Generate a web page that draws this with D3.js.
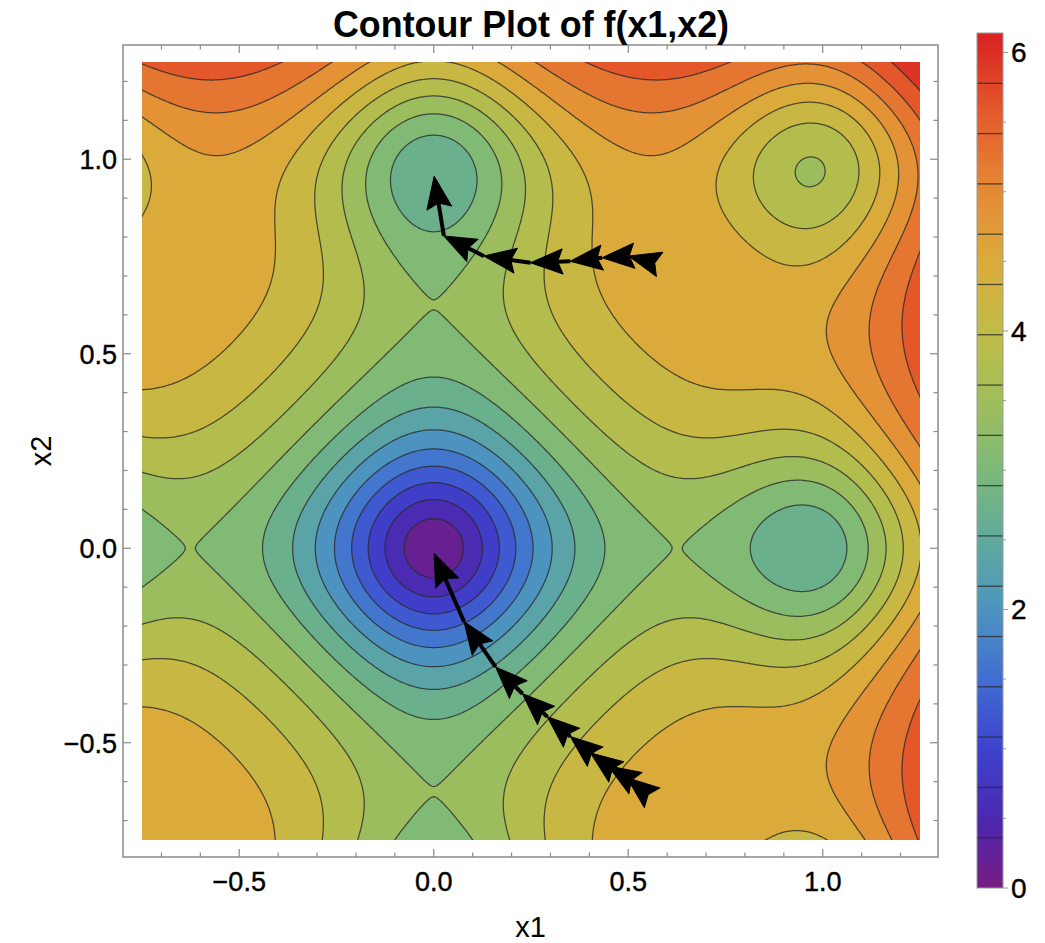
<!DOCTYPE html>
<html>
<head>
<meta charset="utf-8">
<script src="https://cdn.jsdelivr.net/npm/d3@7"></script>
<style>
  body { margin: 0; background: #fff; }
  text { font-family: "Liberation Sans", Arial, sans-serif; fill: #000; }
</style>
</head>
<body>
<svg id="chart" width="1045" height="943"></svg>
<script>
// plotted surface: Ackley function f(x1,x2), parameters of the plot
const ackA = 20, ackB = 0.2, ackC = 2 * Math.PI;
const xRange = [-0.75, 1.25];
const yRange = [-0.75, 1.25];
const nContours = 16;          // contour lines, equally spaced
const fMin = 0, fMax = 6.14;   // value range of the colour bar

// tick labels
const xTicks = [-0.5, 0.0, 0.5, 1.0];
const yTicks = [-0.5, 0.0, 0.5, 1.0];
const barTicks = [0, 2, 4, 6];

// gradient descent steps
const path1x = [0.551, 0.497, 0.449, 0.403, 0.351, 0.292, 0.228, 0.159, 0.078, 0.001];
const path1y = [-0.633, -0.590, -0.560, -0.526, -0.484, -0.433, -0.374, -0.305, -0.189, -0.014];
const path2x = [0.565, 0.501, 0.433, 0.351, 0.249, 0.129, 0.026, 0.001];
const path2y = [0.734, 0.751, 0.747, 0.738, 0.734, 0.751, 0.803, 0.956];

// "Rainbow" colour stops, sampled from the legend
const rainbowStops = [0, 0.08, 0.16, 0.245, 0.33, 0.41, 0.49, 0.57, 0.65, 0.73, 0.81, 0.9, 1];
const rainbowColors = ["#781c81", "#4b28af", "#3e41cd", "#406ed2", "#4e96be", "#60aa9b",
                       "#7db978", "#a0be5a", "#c0bc46", "#d9ac3c", "#e58c34", "#e45e2d", "#d92120"];

function f(x1, x2) {
  return -ackA * Math.exp(-ackB * Math.sqrt(0.5 * (x1 * x1 + x2 * x2)))
         - Math.exp(0.5 * (Math.cos(ackC * x1) + Math.cos(ackC * x2)))
         + Math.E + ackA;
}

const svg = d3.select("#chart");

// frame and data area
const frame = {left: 123, right: 938, top: 45, bottom: 857};
const x = d3.scaleLinear().domain(xRange).range([142, 920]);
const y = d3.scaleLinear().domain(yRange).range([840, 62]);

const color = d3.scaleLinear()
    .domain(rainbowStops.map(t => fMin + t * (fMax - fMin)))
    .range(rainbowColors)
    .interpolate(d3.interpolateRgb)
    .clamp(true);

const step = (fMax - fMin) / (nContours + 1);
const levels = d3.range(1, nContours + 1).map(k => fMin + k * step);

// sample the surface on a grid a bit larger than the plot range
const h = 0.005, g0 = -0.8;
const n = Math.round((1.3 - g0) / h) + 1;
const values = new Float64Array(n * n);
for (let j = 0; j < n; j++) {
  for (let i = 0; i < n; i++) {
    values[j * n + i] = f(g0 + i * h, g0 + j * h);
  }
}
const contours = d3.contours().size([n, n]).thresholds(levels)(values);

const proj = d3.geoTransform({
  point: function(px, py) {
    this.stream.point(x(g0 + (px - 0.5) * h), y(g0 + (py - 0.5) * h));
  }
});
const path = d3.geoPath(proj);

svg.append("defs").append("clipPath")
    .attr("id", "clip")
  .append("rect")
    .attr("x", x(xRange[0])).attr("y", y(yRange[1]))
    .attr("width", x(xRange[1]) - x(xRange[0]))
    .attr("height", y(yRange[0]) - y(yRange[1]));

const plot = svg.append("g").attr("clip-path", "url(#clip)");

// lowest band
plot.append("rect")
    .attr("x", x(xRange[0])).attr("y", y(yRange[1]))
    .attr("width", x(xRange[1]) - x(xRange[0]))
    .attr("height", y(yRange[0]) - y(yRange[1]))
    .attr("fill", color(fMin + step / 2));

plot.selectAll("path.band")
  .data(contours)
  .join("path")
    .attr("class", "band")
    .attr("d", path)
    .attr("fill", d => color(d.value + step / 2))
    .attr("stroke", "none");

plot.selectAll("path.line")
  .data(contours)
  .join("path")
    .attr("class", "line")
    .attr("d", path)
    .attr("fill", "none")
    .attr("stroke", "#2b2b2b")
    .attr("stroke-opacity", 0.8)
    .attr("stroke-width", 1.25);

// gradient descent arrows
function drawArrows(xs, ys) {
  const g = svg.append("g");
  const L = 32, W = 12.5, notch = 27;
  for (let i = 0; i < xs.length - 1; i++) {
    const x0 = x(xs[i]), y0 = y(ys[i]);
    const x1 = x(xs[i + 1]), y1 = y(ys[i + 1]);
    const ang = Math.atan2(y1 - y0, x1 - x0);
    const len = Math.hypot(x1 - x0, y1 - y0);
    if (len > notch) {
      g.append("line")
          .attr("x1", x0).attr("y1", y0)
          .attr("x2", x1 - Math.cos(ang) * notch)
          .attr("y2", y1 - Math.sin(ang) * notch)
          .attr("stroke", "#000")
          .attr("stroke-width", 4);
    }
    g.append("path")
        .attr("d", `M0,0L${-L},${-W}L${-notch},0L${-L},${W}Z`)
        .attr("transform", `translate(${x1},${y1}) rotate(${ang * 180 / Math.PI})`)
        .attr("fill", "#000")
        .attr("stroke", "#000")
        .attr("stroke-width", 1)
        .attr("stroke-linejoin", "round");
  }
}
drawArrows(path1x, path1y);
drawArrows(path2x, path2y);

// frame with inward ticks
svg.append("rect")
    .attr("x", frame.left).attr("y", frame.top)
    .attr("width", frame.right - frame.left)
    .attr("height", frame.bottom - frame.top)
    .attr("fill", "none")
    .attr("stroke", "#8a8a8a")
    .attr("stroke-width", 1.5);

const minorX = d3.range(-7, 13).map(k => k / 10);
const ticks = svg.append("g").attr("stroke", "#8a8a8a").attr("stroke-width", 1.2);
minorX.forEach(v => {
  const major = Math.abs(v * 2 - Math.round(v * 2)) < 1e-9;
  const len = major ? 8 : 4.5;
  const px = x(v), py = y(v);
  ticks.append("line").attr("x1", px).attr("x2", px).attr("y1", frame.bottom).attr("y2", frame.bottom - len);
  ticks.append("line").attr("x1", px).attr("x2", px).attr("y1", frame.top).attr("y2", frame.top + len);
  ticks.append("line").attr("y1", py).attr("y2", py).attr("x1", frame.left).attr("x2", frame.left + len);
  ticks.append("line").attr("y1", py).attr("y2", py).attr("x1", frame.right).attr("x2", frame.right - len);
});

const fmt = v => d3.format(".1f")(v).replace("-", "\u2212");

svg.append("g").selectAll("text")
  .data(xTicks)
  .join("text")
    .attr("x", d => x(d))
    .attr("y", 891)
    .attr("text-anchor", "middle")
    .attr("font-size", 27)
    .attr("stroke", "#000").attr("stroke-width", 0.4)
    .text(fmt);

svg.append("g").selectAll("text")
  .data(yTicks)
  .join("text")
    .attr("x", 117)
    .attr("y", d => y(d) + 10)
    .attr("text-anchor", "end")
    .attr("font-size", 27)
    .attr("stroke", "#000").attr("stroke-width", 0.4)
    .text(fmt);

svg.append("text")
    .attr("x", (frame.left + frame.right) / 2)
    .attr("y", 937)
    .attr("text-anchor", "middle")
    .attr("font-size", 29)
    .text("x1");

svg.append("text")
    .attr("transform", `translate(51,${(frame.top + frame.bottom) / 2}) rotate(-90)`)
    .attr("text-anchor", "middle")
    .attr("font-size", 29)
    .text("x2");

svg.append("text")
    .attr("x", 531)
    .attr("y", 37)
    .attr("text-anchor", "middle")
    .attr("font-size", 36)
    .attr("font-weight", "bold")
    .attr("textLength", 396)
    .attr("lengthAdjust", "spacingAndGlyphs")
    .text("Contour Plot of f(x1,x2)");

// colour bar
const bar = {x: 977, w: 26};
const yb = d3.scaleLinear().domain([fMin, fMax]).range([888, 33]);
const grad = svg.select("defs").append("linearGradient")
    .attr("id", "bargrad")
    .attr("x1", 0).attr("x2", 0).attr("y1", 1).attr("y2", 0);
grad.selectAll("stop")
  .data(d3.range(0, 1.0001, 0.02))
  .join("stop")
    .attr("offset", d => d)
    .attr("stop-color", d => color(fMin + d * (fMax - fMin)));

svg.append("rect")
    .attr("x", bar.x).attr("y", yb(fMax))
    .attr("width", bar.w).attr("height", yb(fMin) - yb(fMax))
    .attr("fill", "url(#bargrad)");

svg.append("g").selectAll("line")
  .data(levels)
  .join("line")
    .attr("x1", bar.x).attr("x2", bar.x + bar.w)
    .attr("y1", d => yb(d)).attr("y2", d => yb(d))
    .attr("stroke", "#2b2b2b")
    .attr("stroke-opacity", 0.8)
    .attr("stroke-width", 1.3);

svg.append("rect")
    .attr("x", bar.x).attr("y", yb(fMax))
    .attr("width", bar.w).attr("height", yb(fMin) - yb(fMax))
    .attr("fill", "none")
    .attr("stroke", "#9a9a9a")
    .attr("stroke-width", 1);

const barG = svg.append("g").attr("stroke", "#9a9a9a");
d3.range(0, 6.01, 0.5).forEach(v => {
  const major = v % 2 === 0;
  barG.append("line")
      .attr("x1", bar.x + bar.w).attr("x2", bar.x + bar.w + (major ? 5 : 3))
      .attr("y1", yb(v)).attr("y2", yb(v));
});

svg.append("g").selectAll("text")
  .data(barTicks)
  .join("text")
    .attr("x", 1011)
    .attr("y", d => yb(d) + 10)
    .attr("font-size", 28)
    .attr("stroke", "#000").attr("stroke-width", 0.4)
    .text(d => d);
</script>
</body>
</html>
